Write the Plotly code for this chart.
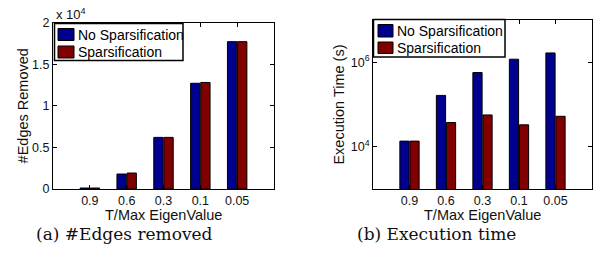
import plotly.graph_objects as go

categories = ["0.9", "0.6", "0.3", "0.1", "0.05"]
series_names = ["No Sparsification", "Sparsification"]
edges_no_sparse = [120, 1800, 6200, 12700, 17700]
edges_sparse = [120, 1920, 6200, 12800, 17700]
time_no_sparse = [13600, 164000, 570000, 1180000, 1660000]
time_sparse = [13600, 37400, 56600, 33000, 52600]
edge_ticks = [0, 5000, 10000, 15000, 20000]
edge_tick_text = ["0", "0.5", "1", "1.5", "2"]
time_ticks = [1e4, 1e6]
time_tick_text = ["10<sup>4</sup>", "10<sup>6</sup>"]

BLUE = "#00008F"
RED = "#800000"
COLORS = [BLUE, RED]
W, H = 593, 256
FONT = "Liberation Sans, Arial, sans-serif"
SERIF = "DejaVu Serif, serif"
TXT = "#111111"

xpos = list(range(1, len(categories) + 1))

fig = go.Figure()
line = dict(color="black", width=1)
for vals, name, col in zip([edges_no_sparse, edges_sparse], series_names, COLORS):
    fig.add_trace(go.Bar(x=xpos, y=vals, name=name, marker=dict(color=col, line=line),
                         xaxis="x", yaxis="y", showlegend=False))
for vals, name, col in zip([time_no_sparse, time_sparse], series_names, COLORS):
    fig.add_trace(go.Bar(x=xpos, y=vals, name=name, marker=dict(color=col, line=line),
                         xaxis="x2", yaxis="y2", showlegend=False))


def px(x):
    return x / W


def py(y):
    return 1 - y / H


axis_common = dict(showline=True, linecolor="black", linewidth=1, mirror="ticks",
                   ticks="inside", ticklen=4, tickcolor="black", showgrid=False,
                   zeroline=False, automargin=False,
                   tickfont=dict(family=FONT, size=12.5, color=TXT))
title_font = dict(family=FONT, size=14.5, color=TXT)

shapes = []
annotations = []

# manual MATLAB-style legends (box, colour patches, labels)
legend_specs = [
    dict(box=(54.5, 23.5, 183, 60.5), patch_x=(58, 74), rows=[(28.5, 40.5), (46, 58)], text_x=76),
    dict(box=(373.5, 19.5, 505, 57), patch_x=(378, 393), rows=[(24.5, 37), (42, 53.5)], text_x=395),
]
for spec in legend_specs:
    x0, y0, x1, y1 = spec["box"]
    shapes.append(dict(type="rect", xref="paper", yref="paper", x0=px(x0), x1=px(x1),
                       y0=py(y1), y1=py(y0), line=dict(color="black", width=1.5),
                       fillcolor="white", layer="above"))
    for (r0, r1), name, col in zip(spec["rows"], series_names, COLORS):
        shapes.append(dict(type="rect", xref="paper", yref="paper",
                           x0=px(spec["patch_x"][0]), x1=px(spec["patch_x"][1]),
                           y0=py(r1), y1=py(r0), line=dict(color="black", width=1),
                           fillcolor=col, layer="above"))
        annotations.append(dict(text=name, x=px(spec["text_x"]), y=py((r0 + r1) / 2),
                                xref="paper", yref="paper", xanchor="left", yanchor="middle",
                                showarrow=False, font=dict(family=FONT, size=14, color="black")))

annotations += [
    dict(text="x 10<sup>4</sup>", x=px(54), y=py(14), xref="paper", yref="paper",
         xanchor="left", yanchor="middle", showarrow=False,
         font=dict(family=FONT, size=13, color=TXT)),
    dict(text="T/Max EigenValue", x=px(163.5), y=py(214.5), xref="paper", yref="paper",
         xanchor="center", yanchor="middle", showarrow=False, font=title_font),
    dict(text="T/Max EigenValue", x=px(482.5), y=py(214.5), xref="paper", yref="paper",
         xanchor="center", yanchor="middle", showarrow=False, font=title_font),
    dict(text="(a) #Edges removed", x=px(124), y=py(233.5), xref="paper", yref="paper",
         xanchor="center", yanchor="middle", showarrow=False,
         font=dict(family=SERIF, size=17, color=TXT)),
    dict(text="(b) Execution time", x=px(436), y=py(233.5), xref="paper", yref="paper",
         xanchor="center", yanchor="middle", showarrow=False,
         font=dict(family=SERIF, size=17, color=TXT)),
]

fig.update_layout(
    template="none",
    width=W, height=H, margin=dict(l=0, r=0, t=0, b=0, pad=0),
    paper_bgcolor="white", plot_bgcolor="white",
    barmode="group", bargap=0.45, bargroupgap=0.08,
    font=dict(family=FONT, color=TXT),
    showlegend=False,
    xaxis=dict(domain=[px(53), px(274)], anchor="y", range=[0, 6],
               tickvals=xpos, ticktext=categories, **axis_common),
    yaxis=dict(domain=[py(189), py(22.5)], anchor="x", range=[0, 20000],
               tickvals=edge_ticks, ticktext=edge_tick_text,
               title=dict(text="#Edges Removed", font=title_font, standoff=0),
               **axis_common),
    xaxis2=dict(domain=[px(373), px(592)], anchor="y2", range=[0, 6],
                tickvals=xpos, ticktext=categories, **axis_common),
    yaxis2=dict(domain=[py(189), py(20)], anchor="x2", type="log", range=[3, 7],
                tickvals=time_ticks, ticktext=time_tick_text,
                title=dict(text="Execution Time (s)", font=title_font, standoff=2),
                **axis_common),
    shapes=shapes,
    annotations=annotations,
)

fig.write_html("out.html", config={"displayModeBar": False},
               post_script="document.body.style.margin='0';document.body.style.padding='0';")
